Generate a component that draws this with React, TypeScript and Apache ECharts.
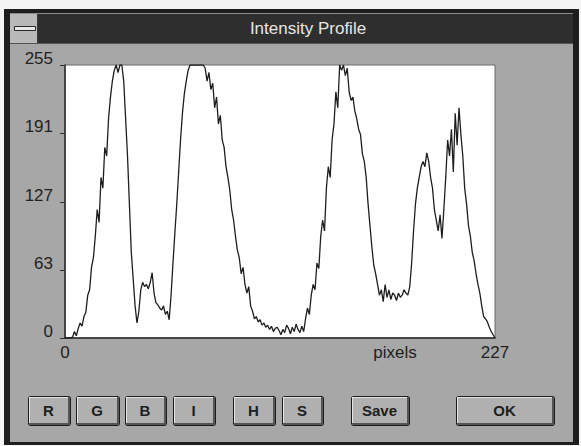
import React, { useEffect, useRef } from "react";
import * as echarts from "echarts";

// ---- data ----
const windowTitle = "Intensity Profile";
const xAxisName = "pixels";
const yTickValues = [0, 63, 127, 191, 255];
const xTickValues = [0, 227];
const buttonLabels = ["R", "G", "B", "I", "H", "S", "Save", "OK"];
// intensity value for each pixel 0..227
const intensity = [
  0, 0, 0, 0, 1, 6, 2, 9, 14, 11,
  20, 24, 40, 45, 66, 75, 95, 120, 108, 150,
  140, 178, 170, 205, 225, 240, 250, 255, 248, 255,
  255, 240, 205, 170, 125, 80, 55, 30, 14, 25,
  45, 52, 48, 50, 46, 52, 61, 42, 33, 31,
  28, 26, 30, 22, 25, 17, 40, 70, 98, 125,
  155, 185, 210, 228, 240, 250, 255, 255, 255, 255,
  255, 255, 255, 255, 252, 240, 248, 232, 238, 215,
  225, 200, 208, 185, 178, 160, 150, 138, 120, 110,
  95, 82, 75, 60, 66, 50, 42, 48, 30, 25,
  18, 20, 15, 17, 12, 14, 10, 12, 8, 11,
  6, 9, 10, 7, 3, 8, 5, 12, 9, 4,
  10, 6, 13, 8, 5, 11, 6, 18, 28, 22,
  40, 50, 45, 70, 65, 95, 110, 100, 140, 160,
  150, 185, 200, 230, 215, 255, 250, 255, 245, 252,
  230, 222, 225, 212, 205, 195, 190, 172, 165, 150,
  125, 105, 85, 68, 60, 50, 40, 45, 34, 50,
  38, 45, 36, 42, 40, 35, 42, 38, 40, 45,
  42, 40, 48, 70, 100, 125, 140, 150, 160, 165,
  160, 173, 165, 150, 140, 120, 110, 100, 115, 93,
  120, 150, 185, 170, 195, 155, 210, 180, 215, 190,
  170, 140, 125, 105, 95, 80, 72, 60, 50, 42,
  30, 20, 18, 15, 10, 6, 3, 0,
];

// ---- layout ----
const W = 581;
const H = 446;
const FONT = '"Liberation Sans", Arial, sans-serif';
const buttonBoxes: [number, number][] = [
  [28, 71], [76, 120], [125, 167], [173, 216], [233, 276], [282, 324], [351, 410], [456, 555],
];
const BTN_Y0 = 396;
const BTN_Y1 = 426;

function makeButton(label: string, x0: number, x1: number) {
  const w = x1 - x0;
  const h = BTN_Y1 - BTN_Y0;
  const y0 = BTN_Y0;
  return [
    { type: "rect", z: -5, shape: { x: x0, y: y0, width: w, height: h, r: 3 }, style: { fill: "#1c1c1c" } },
    { type: "rect", z: -4, shape: { x: x0 + 1, y: y0 + 1, width: w - 2, height: h - 2 }, style: { fill: "#555" } },
    { type: "rect", z: -3, shape: { x: x0 + 1, y: y0 + 1, width: w - 4, height: h - 4 }, style: { fill: "#e4e4e4" } },
    { type: "rect", z: -2, shape: { x: x0 + 2, y: y0 + 2, width: w - 5, height: h - 5 }, style: { fill: "#b0b0b0" } },
    {
      type: "text", z: -1, x: x0 + w / 2 - 1, y: y0 + h / 2 - 1,
      style: { text: label, fill: "#1e1e1e", font: `bold 15px ${FONT}`, align: "center", verticalAlign: "middle" },
    },
  ];
}

export default function App() {
  const ref = useRef<HTMLDivElement>(null);
  useEffect(() => {
    if (!ref.current) return;
    const chart = echarts.init(ref.current, null, { renderer: "svg" });
    const data = intensity.map((v, i) => [i, v]);
    const graphics: any[] = [
      // window frame
      { type: "rect", z: -20, shape: { x: 4, y: 9, width: 575, height: 436 }, style: { fill: "#1e1e1e" } },
      // client area
      { type: "rect", z: -19, shape: { x: 10, y: 13, width: 563, height: 429 }, style: { fill: "#a7a7a7" } },
      // title bar
      { type: "rect", z: -18, shape: { x: 10, y: 13, width: 563, height: 30 }, style: { fill: "#2e2e2e" } },
      { type: "line", z: -17, shape: { x1: 10, y1: 13.5, x2: 573, y2: 13.5 }, style: { stroke: "#8a8a8a", lineWidth: 1 } },
      { type: "line", z: -17, shape: { x1: 10, y1: 43.5, x2: 573, y2: 43.5 }, style: { stroke: "#555", lineWidth: 1 } },
      // system menu box
      { type: "rect", z: -16, shape: { x: 10, y: 14, width: 27, height: 29 }, style: { fill: "#b9b9b9" } },
      { type: "line", z: -16, shape: { x1: 37.5, y1: 14, x2: 37.5, y2: 43 }, style: { stroke: "#3a3a3a", lineWidth: 1 } },
      { type: "rect", z: -15, shape: { x: 14.5, y: 26.5, width: 21, height: 4 }, style: { fill: "#e8e8e8", stroke: "#2a2a2a", lineWidth: 1 } },
      {
        type: "text", z: -15, x: 308, y: 28,
        style: { text: windowTitle, fill: "#e6e6e6", font: `17px ${FONT}`, align: "center", verticalAlign: "middle" },
      },
      {
        type: "text", z: 5, x: 395, y: 352,
        style: { text: xAxisName, fill: "#222", font: `17px ${FONT}`, align: "center", verticalAlign: "middle" },
      },
    ];
    buttonLabels.forEach((lb, i) => {
      graphics.push(...makeButton(lb, buttonBoxes[i][0], buttonBoxes[i][1]));
    });

    chart.setOption({
      animation: false,
      backgroundColor: "#f4f4f4",
      grid: {
        left: 65, top: 65, width: 430, height: 273,
        show: true, backgroundColor: "#ffffff", borderColor: "#6a6a6a", borderWidth: 1,
      },
      xAxis: {
        type: "value", min: 0, max: 227,
        splitLine: { show: false },
        axisLine: { show: true, onZero: false, lineStyle: { color: "#2a2a2a", width: 1.5 } },
        axisTick: { show: false },
        axisLabel: {
          customValues: xTickValues,
          color: "#222", fontSize: 17, fontFamily: FONT, margin: 6,
        },
      },
      yAxis: {
        type: "value", min: 0, max: 255,
        splitLine: { show: false },
        axisLine: { show: true, lineStyle: { color: "#2a2a2a", width: 1.5 } },
        axisTick: { show: true, customValues: yTickValues, length: 5, lineStyle: { color: "#333" } },
        axisLabel: {
          customValues: yTickValues,
          color: "#222", fontSize: 17, fontFamily: FONT, margin: 12,
          verticalAlign: "bottom", lineHeight: 14,
        },
      },
      graphic: { elements: graphics },
      series: [
        {
          type: "line",
          data,
          showSymbol: false,
          symbol: "none",
          lineStyle: { color: "#1e1e1e", width: 1.3 },
          z: 3,
        },
      ],
    });
    return () => chart.dispose();
  }, []);
  return <div ref={ref} style={{ position: "fixed", left: 0, top: 0, width: W, height: H }} />;
}
